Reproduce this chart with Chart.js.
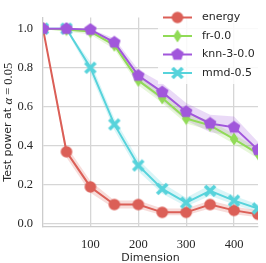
<!DOCTYPE html>
<html>
<head>
<meta charset="utf-8">
<script src="https://cdn.jsdelivr.net/npm/chart.js@4"></script>
<style>
  html, body { margin: 0; padding: 0; background: #fff; }
  #c { display: block; }
</style>
</head>
<body>
<canvas id="c" width="266" height="263"></canvas>
<script>
// dimensions on the x axis
var dims = [1, 50, 100, 150, 200, 250, 300, 350, 400, 450];
var xTicks = [100, 200, 300, 400];
var yTicks = [0.0, 0.2, 0.4, 0.6, 0.8, 1.0];

// test power per method (mean, lower and upper band)
var energy   = [1.00, 0.37, 0.19, 0.10, 0.10, 0.06, 0.06, 0.10, 0.07, 0.05];
var energyLo = [0.99, 0.34, 0.16, 0.08, 0.08, 0.045, 0.045, 0.08, 0.05, 0.035];
var energyHi = [1.00, 0.40, 0.22, 0.12, 0.12, 0.08, 0.08, 0.12, 0.09, 0.07];

var fr   = [1.00, 0.995, 0.985, 0.915, 0.735, 0.645, 0.54, 0.505, 0.435, 0.36];
var frLo = [1.00, 0.985, 0.97, 0.895, 0.71, 0.62, 0.515, 0.48, 0.41, 0.335];
var frHi = [1.00, 1.00, 0.995, 0.935, 0.76, 0.67, 0.565, 0.53, 0.46, 0.385];

var knn   = [1.00, 1.00, 0.995, 0.93, 0.76, 0.675, 0.575, 0.515, 0.495, 0.38];
var knnLo = [1.00, 0.99, 0.98, 0.91, 0.73, 0.63, 0.53, 0.47, 0.45, 0.34];
var knnHi = [1.00, 1.00, 1.00, 0.95, 0.79, 0.72, 0.62, 0.56, 0.55, 0.42];

var mmd   = [1.00, 1.00, 0.80, 0.51, 0.30, 0.18, 0.11, 0.17, 0.12, 0.08];
var mmdLo = [1.00, 0.99, 0.77, 0.48, 0.27, 0.155, 0.09, 0.145, 0.10, 0.06];
var mmdHi = [1.00, 1.00, 0.83, 0.54, 0.33, 0.21, 0.135, 0.20, 0.145, 0.10];

var names = ['energy', 'fr-0.0', 'knn-3-0.0', 'mmd-0.5'];
var colors = ['#db5f57', '#91db57', '#a157db', '#57d3db'];

function pts(ys) {
    return ys.map(function (y, i) { return { x: dims[i], y: y }; });
}

function hexAlpha(hex, a) {
    var r = parseInt(hex.slice(1, 3), 16), g = parseInt(hex.slice(3, 5), 16), b = parseInt(hex.slice(5, 7), 16);
    return 'rgba(' + r + ',' + g + ',' + b + ',' + a + ')';
}

// marker canvases (circle, thin diamond, pentagon, filled X)
function makeMarker(kind, color) {
    var c = document.createElement('canvas');
    c.width = 14; c.height = 14;
    var g = c.getContext('2d');
    g.fillStyle = color;
    g.strokeStyle = color;
    g.translate(7, 7);
    g.beginPath();
    if (kind === 'circle') {
        g.arc(0, 0, 5.8, 0, Math.PI * 2);
        g.fill();
    } else if (kind === 'diamond') {
        g.moveTo(0, -6.5); g.lineTo(4.2, 0); g.lineTo(0, 6.5); g.lineTo(-4.2, 0);
        g.closePath();
        g.fill();
    } else if (kind === 'pentagon') {
        for (var i = 0; i < 5; i++) {
            var a = -Math.PI / 2 + i * 2 * Math.PI / 5;
            g.lineTo(6.6 * Math.cos(a), 6.6 * Math.sin(a));
        }
        g.closePath();
        g.fill();
    } else {
        g.lineWidth = 3.6;
        g.moveTo(-5, -5); g.lineTo(5, 5);
        g.moveTo(5, -5); g.lineTo(-5, 5);
        g.stroke();
    }
    return c;
}

var markers = [
    makeMarker('circle', colors[0]),
    makeMarker('diamond', colors[1]),
    makeMarker('pentagon', colors[2]),
    makeMarker('x', colors[3])
];

var means = [energy, fr, knn, mmd];
var lows = [energyLo, frLo, knnLo, mmdLo];
var highs = [energyHi, frHi, knnHi, mmdHi];
var lineOrder = [4, 2, 1, 3];

var datasets = [];
means.forEach(function (m, k) {
    datasets.push({
        data: pts(lows[k]), borderWidth: 0, pointRadius: 0, fill: false,
        order: 20 + k, borderColor: 'transparent'
    });
    datasets.push({
        data: pts(highs[k]), borderWidth: 0, pointRadius: 0, fill: '-1',
        order: 20 + k, borderColor: 'transparent', backgroundColor: hexAlpha(colors[k], 0.22)
    });
});
means.forEach(function (m, k) {
    datasets.push({
        label: names[k],
        data: pts(m),
        borderColor: colors[k],
        borderWidth: 2,
        pointStyle: markers[k],
        pointRadius: 6,
        fill: false,
        order: lineOrder[k]
    });
});

// legend drawn inside the plot, top right
var innerLegend = {
    id: 'innerLegend',
    afterDraw: function (chart) {
        var ctx = chart.ctx;
        ctx.save();
        ctx.fillStyle = 'rgba(255,255,255,0.85)';
        ctx.fillRect(158, 7, 108, 77);
        for (var i = 0; i < names.length; i++) {
            var y = 17.5 + i * 18.5;
            ctx.strokeStyle = colors[i];
            ctx.lineWidth = 2;
            ctx.beginPath();
            ctx.moveTo(163, y); ctx.lineTo(192, y);
            ctx.stroke();
            ctx.drawImage(markers[i], 177.5 - 7, y - 7);
            ctx.fillStyle = '#262626';
            ctx.font = '11px "DejaVu Sans"';
            ctx.textBaseline = 'middle';
            ctx.fillText(names[i], 202, y);
        }
        ctx.restore();
    }
};

// y axis title with a math part (sans text, italic alpha, serif number)
var yTitle = {
    id: 'yTitle',
    afterDraw: function (chart) {
        var ctx = chart.ctx;
        var area = chart.chartArea;
        var parts = [
            { t: 'Test power at ', f: '11px "DejaVu Sans"' },
            { t: 'α', f: 'italic 12.5px "Liberation Serif"' },
            { t: ' = ', f: '12.5px "Liberation Serif"' },
            { t: '0.05', f: '12.5px "Liberation Serif"' }
        ];
        ctx.save();
        var total = 0;
        parts.forEach(function (p) { ctx.font = p.f; p.w = ctx.measureText(p.t).width; total += p.w; });
        ctx.translate(8, (area.top + area.bottom) / 2);
        ctx.rotate(-Math.PI / 2);
        ctx.fillStyle = '#262626';
        ctx.textBaseline = 'middle';
        var x = -total / 2;
        parts.forEach(function (p) { ctx.font = p.f; ctx.fillText(p.t, x, 0.5); x += p.w; });
        ctx.restore();
    }
};

var gridColor = '#d6d6d6';
var tickFont = { family: '"Liberation Serif"', size: 12.5 };
var labelFont = { family: '"DejaVu Sans"', size: 11, lineHeight: 1 };

new Chart(document.getElementById('c'), {
    type: 'line',
    data: { datasets: datasets },
    options: {
        responsive: false,
        animation: false,
        layout: { padding: { top: 0, right: 1, bottom: 0, left: 0 } },
        plugins: { legend: { display: false }, tooltip: { enabled: false } },
        scales: {
            x: {
                type: 'linear',
                min: 1,
                max: 450,
                afterBuildTicks: function (scale) {
                    scale.ticks = xTicks.map(function (v) { return { value: v }; });
                },
                afterFit: function (scale) { scale.height = 36; },
                grid: { color: gridColor, lineWidth: 1.3, drawTicks: false },
                border: { display: true, color: '#cccccc', width: 1.3 },
                ticks: { color: '#262626', font: tickFont, padding: 10, maxRotation: 0 },
                title: { display: true, text: 'Dimension', color: '#262626', font: labelFont, padding: { top: 0, bottom: -1 } }
            },
            y: {
                min: -0.015,
                max: 1.057,
                afterBuildTicks: function (scale) {
                    scale.ticks = yTicks.map(function (v) { return { value: v }; });
                },
                afterFit: function (scale) { scale.width = 43; },
                grid: { color: gridColor, lineWidth: 1.3, drawTicks: false },
                border: { display: true, color: '#cccccc', width: 1.3 },
                ticks: {
                    color: '#262626', font: tickFont, padding: 10,
                    callback: function (v) { return v.toFixed(1); }
                },
                title: { display: false }
            }
        }
    },
    plugins: [innerLegend, yTitle]
});
</script>
</body>
</html>
